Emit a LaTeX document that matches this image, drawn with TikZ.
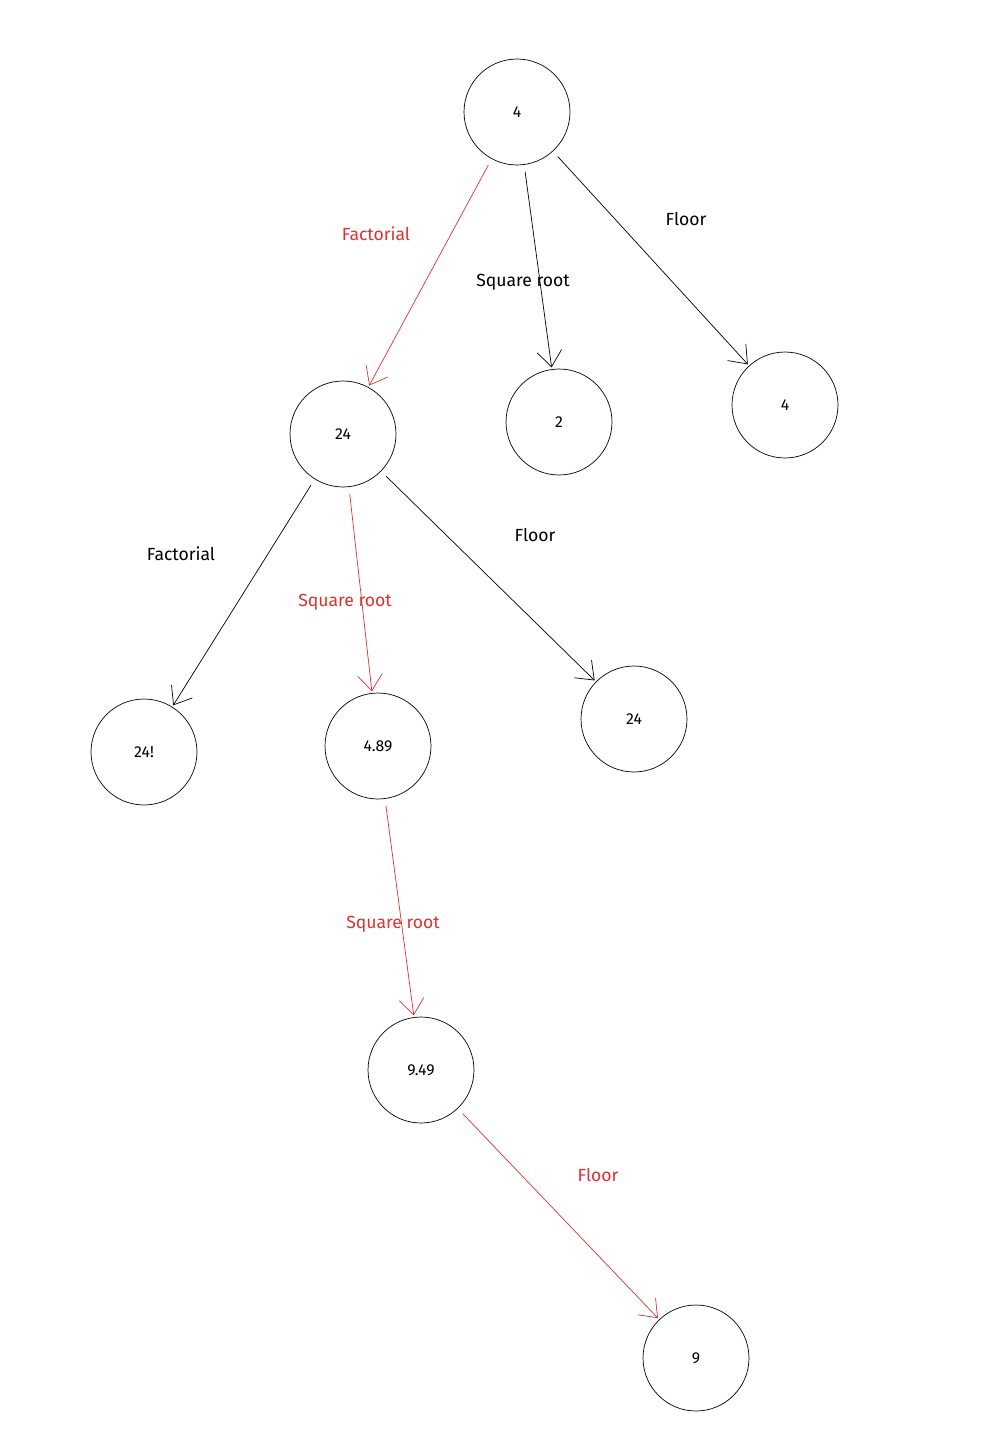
\documentclass[tikz,border=0pt]{standalone}
\usepackage{fontspec}
\setmainfont{Fira Sans}
\usetikzlibrary{positioning,arrows.meta}
\definecolor{redpath}{RGB}{224,49,49}
\begin{document}
\begin{tikzpicture}[x=0.02cm,y=-0.02cm]
\tikzset{state/.style={draw,circle,minimum size=2.12cm,inner sep=0pt,font=\small},
 edge/.style={draw,-{Straight Barb[length=9pt,width=14pt]},shorten <=4pt,shorten >=1pt,thin},
 hot/.style={edge,redpath},
 lbl/.style={font=\normalsize}}
\useasboundingbox (0,0) rectangle (990,1454);
\node[state] (root) at (517,112) {4};
\node[state] (fa) at (343,434) {24};
\node[state] (sq) at (559,422) {2};
\node[state] (fl) at (785,405) {4};
\node[state] (fafa) at (144,752) {24!};
\node[state] (fasq) at (378,746) {4.89};
\node[state] (fafl) at (634,719) {24};
\node[state] (sqsq) at (421,1070) {9.49};
\node[state] (last) at (696,1358) {9};
\draw[hot] (root) -- (fa);
\draw[edge] (root) -- (sq);
\draw[edge] (root) -- (fl);
\draw[edge] (fa) -- (fafa);
\draw[hot] (fa) -- (fasq);
\draw[edge] (fa) -- (fafl);
\draw[hot] (fasq) -- (sqsq);
\draw[hot] (sqsq) -- (last);
\node[lbl,redpath] at (376,234) {Factorial};
\node[lbl] at (523,282) {Square root};
\node[lbl] at (686,219) {Floor};
\node[lbl] at (181,554) {Factorial};
\node[lbl,redpath] at (345,602) {Square root};
\node[lbl] at (535,535) {Floor};
\node[lbl,redpath] at (393,924) {Square root};
\node[lbl,redpath] at (598,1175) {Floor};
\end{tikzpicture}
\end{document}
